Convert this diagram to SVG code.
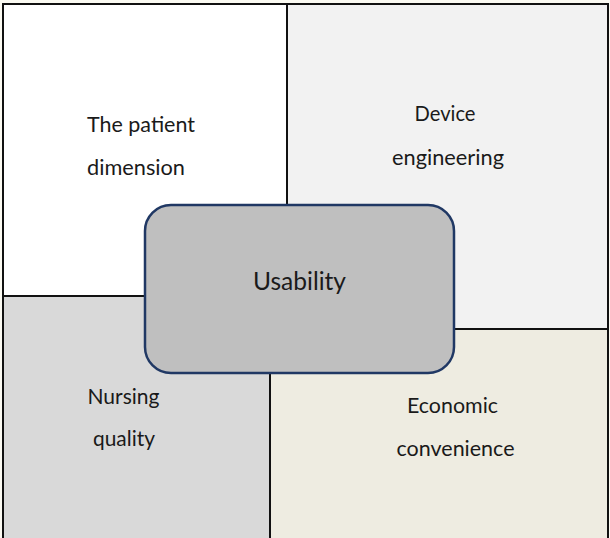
<svg xmlns="http://www.w3.org/2000/svg" width="610" height="538" viewBox="0 0 610 538">
<style>
.box{stroke:#111;stroke-width:2}
.lbl{font-family:Lato,"Open Sans","Liberation Sans",sans-serif;font-size:22px;fill:#1a1a1a}
.big{font-size:25.5px}
.mid{text-anchor:middle}
</style>
<rect width="610" height="538" fill="#fbfaf2"/>
<g id="patient">
<rect class="box" x="3" y="4" width="284" height="292" fill="#ffffff"/>
<text class="lbl" x="87" y="132" textLength="108" lengthAdjust="spacingAndGlyphs">The patient</text>
<text class="lbl" x="87" y="175" textLength="98" lengthAdjust="spacingAndGlyphs">dimension</text>
</g>
<g id="device">
<rect class="box" x="287" y="4" width="321" height="325" fill="#f2f2f2"/>
<text class="lbl mid" x="445" y="121" textLength="61" lengthAdjust="spacingAndGlyphs">Device</text>
<text class="lbl mid" x="448" y="165" textLength="112" lengthAdjust="spacingAndGlyphs">engineering</text>
</g>
<g id="nursing">
<rect class="box" x="3" y="296" width="267" height="246" fill="#d9d9d9"/>
<text class="lbl mid" x="123.5" y="404" textLength="72" lengthAdjust="spacingAndGlyphs">Nursing</text>
<text class="lbl mid" x="124" y="446" textLength="62" lengthAdjust="spacingAndGlyphs">quality</text>
</g>
<g id="economic">
<rect class="box" x="270" y="329" width="338" height="213" fill="#eeece1"/>
<text class="lbl mid" x="452.5" y="413" textLength="91" lengthAdjust="spacingAndGlyphs">Economic</text>
<text class="lbl mid" x="455.5" y="456" textLength="118" lengthAdjust="spacingAndGlyphs">convenience</text>
</g>
<g id="usability">
<rect x="145" y="205" width="309" height="168" rx="26" ry="26" fill="#bfbfbf" stroke="#203864" stroke-width="2.5"/>
<text class="lbl big mid" x="299.5" y="290" textLength="93" lengthAdjust="spacingAndGlyphs">Usability</text>
</g>
</svg>
